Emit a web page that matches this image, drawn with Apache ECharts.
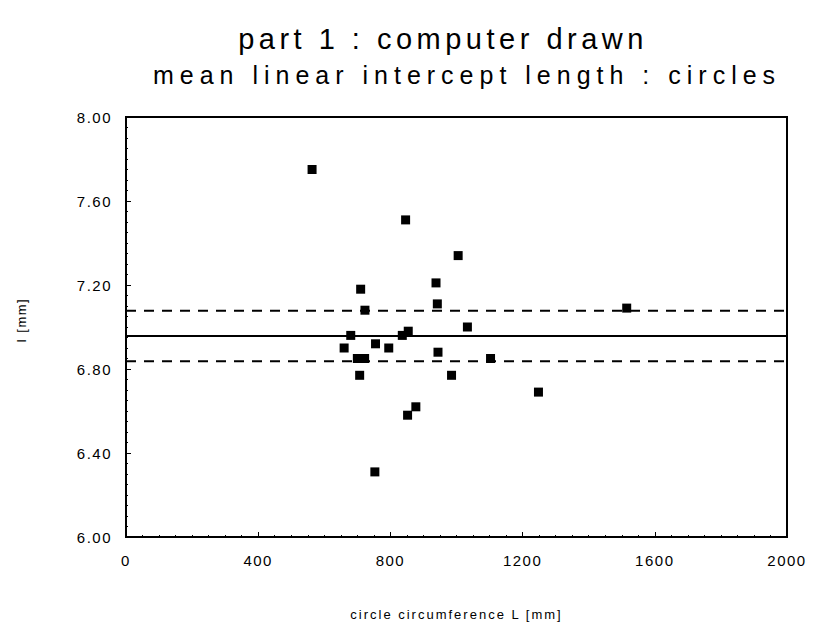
<!DOCTYPE html>
<html>
<head>
<meta charset="utf-8">
<script src="https://cdn.jsdelivr.net/npm/echarts@6/dist/echarts.min.js"></script>
<style>
html,body{margin:0;padding:0;background:#fff;}
#chart{width:817px;height:627px;}
</style>
</head>
<body>
<div id="chart"></div>
<script>
// circle circumference L [mm]
var circumference = [563, 846, 1005, 938, 710, 723, 942, 1515, 1033, 680, 836, 854, 660, 755, 795, 944, 700, 722, 1103, 707, 985, 1248, 877, 852, 753];
// mean linear intercept length l [mm]
var intercept = [7.75, 7.51, 7.34, 7.21, 7.18, 7.08, 7.11, 7.09, 7.00, 6.96, 6.96, 6.98, 6.90, 6.92, 6.90, 6.88, 6.85, 6.85, 6.85, 6.77, 6.77, 6.69, 6.62, 6.58, 6.31];
var meanValue = [6.957];
var upperBound = [7.077];
var lowerBound = [6.837];
var xRange = [0, 2000];
var xTicks = [0, 400, 800, 1200, 1600, 2000];
var yTicks = [6.00, 6.40, 6.80, 7.20, 7.60, 8.00];
var titleText = 'part 1 : computer drawn';
var subtitleText = 'mean linear intercept length : circles';
var xName = 'circle circumference L [mm]';
var yName = 'l [mm]';

var points = circumference.map(function (x, i) { return [x, intercept[i]]; });
function hline(v) { return xRange.map(function (x) { return [x, v]; }); }

var chart = echarts.init(document.getElementById('chart'), null, { renderer: 'svg' });
var font = 'Liberation Sans, Arial, Helvetica, sans-serif';
chart.setOption({
  backgroundColor: '#fff',
  animation: false,
  title: [
    { text: titleText, left: 438, top: 19, textAlign: 'center',
      textStyle: { fontFamily: font, fontSize: 29, fontWeight: 'normal', color: '#000' } },
    { text: subtitleText, left: 462, top: 57, textAlign: 'center',
      textStyle: { fontFamily: font, fontSize: 25, fontWeight: 'normal', color: '#000' } }
  ],
  grid: { left: 126, right: 30, top: 117, bottom: 90, show: true, borderColor: '#000', borderWidth: 2, backgroundColor: 'transparent' },
  xAxis: {
    type: 'value', min: xTicks[0], max: xTicks[xTicks.length - 1], interval: 400,
    name: xName, nameLocation: 'middle', nameGap: 71,
    nameTextStyle: { fontFamily: font, fontSize: 13, color: '#000' },
    axisLine: { lineStyle: { color: '#000', width: 2 } },
    axisTick: { show: true, inside: true, length: 5, lineStyle: { color: '#000' } },
    minorTick: { show: true, splitNumber: 8, length: 2, lineStyle: { color: '#000' } },
    splitLine: { show: false },
    axisLabel: { fontFamily: font, fontSize: 15, color: '#000', margin: 16,
      formatter: function (v) { return String(v); } }
  },
  yAxis: {
    type: 'value', min: yTicks[0], max: yTicks[yTicks.length - 1], interval: 0.4,
    name: yName, nameLocation: 'middle', nameGap: 98, nameRotate: 90,
    nameTextStyle: { fontFamily: font, fontSize: 13, color: '#000', padding: [0, 0, 0, 14] },
    axisLine: { lineStyle: { color: '#000', width: 2 } },
    axisTick: { show: true, inside: true, length: 5, lineStyle: { color: '#000' } },
    minorTick: { show: true, splitNumber: 8, length: 2, lineStyle: { color: '#000' } },
    splitLine: { show: false },
    axisLabel: { fontFamily: font, fontSize: 15, color: '#000', margin: 14,
      formatter: function (v) { return v.toFixed(2); } }
  },
  series: [
    { type: 'line', data: hline(meanValue[0]), symbol: 'none', lineStyle: { color: '#000', width: 2 }, z: 1 },
    { type: 'line', data: hline(upperBound[0]), symbol: 'none', lineStyle: { color: '#000', width: 2, type: [10, 8] }, z: 1 },
    { type: 'line', data: hline(lowerBound[0]), symbol: 'none', lineStyle: { color: '#000', width: 2, type: [10, 8] }, z: 1 },
    { type: 'scatter', data: points, symbol: 'rect', symbolSize: 9, itemStyle: { color: '#000', opacity: 1 }, z: 3 }
  ]
});

// widen the letter spacing of the texts to match the original spacing
function applySpacing() {
  var texts = document.querySelectorAll('#chart svg text');
  texts.forEach(function (t) {
    var s = t.textContent;
    var sp = '1.5px';
    if (s === titleText) sp = '4.5px';
    else if (s === subtitleText) sp = '6px';
    else if (s === xName) sp = '2px';
    else if (s === yName) sp = '1.5px';
    t.style.letterSpacing = sp;
  });
}
applySpacing();
chart.on('finished', applySpacing);
</script>
</body>
</html>
